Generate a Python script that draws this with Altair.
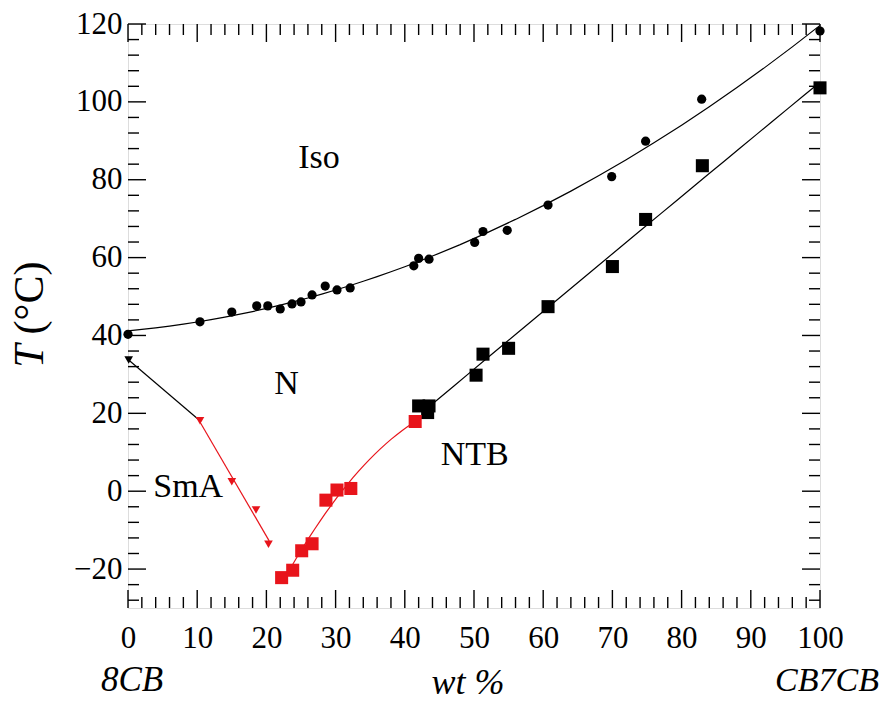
import altair as alt
import pandas as pd

# ---------------- data ----------------
# Iso -> N transition (circles)
iso_wt = [0, 10.4, 15.0, 18.6, 20.2, 22.0, 23.7, 25.0, 26.6, 28.5, 30.2, 32.1,
          41.3, 42.0, 43.5, 50.1, 51.3, 54.8, 60.7, 69.9, 74.8, 82.9, 100]
iso_T = [40.3, 43.5, 46.0, 47.6, 47.6, 46.8, 48.1, 48.6, 50.4, 52.7, 51.7, 52.2,
         57.9, 59.8, 59.6, 63.9, 66.7, 67.0, 73.5, 80.8, 89.9, 100.7, 118.2]

# N -> NTB transition (black squares)
ntb_wt = [42.0, 43.5, 43.3, 50.3, 51.3, 55.0, 60.7, 70.0, 74.8, 83.0, 100]
ntb_T = [21.9, 21.9, 20.2, 29.8, 35.2, 36.7, 47.4, 57.7, 69.8, 83.6, 103.6]

# SmA -> NTB transition (red squares)
red_sq_wt = [22.2, 23.8, 25.1, 26.6, 28.6, 30.2, 32.2, 41.5]
red_sq_T = [-22.2, -20.3, -15.3, -13.5, -2.3, 0.3, 0.7, 17.9]

# N -> SmA transition (down triangles); first one is black
tri_wt = [0.1, 10.4, 15.0, 18.5, 20.3]
tri_T = [33.7, 18.1, 2.4, -4.8, -13.6]
tri_col = ["black", "red", "red", "red", "red"]

# phase labels
phase_names = ["Iso", "N", "NTB", "SmA"]
phase_wt = [27.6, 22.9, 50.1, 8.7]
phase_T = [85.5, 27.5, 9.3, 1.0]

x_labels = [0, 10, 20, 30, 40, 50, 60, 70, 80, 90, 100]
y_labels = [-20, 0, 20, 40, 60, 80, 100, 120]
x_minor = [v for v in range(0, 101, 2) if v % 10 != 0]
y_minor = [v for v in range(-28, 121, 4) if v % 20 != 0]

RED = "#e8141b"
FONT = "Liberation Serif"
W, H = 692, 584

iso = pd.DataFrame({"wt": iso_wt, "T": iso_T})
ntb = pd.DataFrame({"wt": ntb_wt, "T": ntb_T})
red_sq = pd.DataFrame({"wt": red_sq_wt, "T": red_sq_T})
tri = pd.DataFrame({"wt": tri_wt, "T": tri_T, "c": tri_col})
phases = pd.DataFrame({"wt": phase_wt, "T": phase_T, "name": phase_names})

xscale = alt.Scale(domain=[0, 100], nice=False, zero=False)
yscale = alt.Scale(domain=[-30, 120], nice=False, zero=False)
xaxis = alt.Axis(values=x_labels, ticks=False, domain=False, grid=False, title=None,
                 labelFont=FONT, labelFontSize=31, labelColor="black", labelPadding=15,
                 labelFlush=False)
yaxis = alt.Axis(values=y_labels, ticks=False, domain=False, grid=False, title=None,
                 labelFont=FONT, labelFontSize=31, labelColor="black", labelPadding=6)


def X(f):
    return alt.X(f, type="quantitative", scale=xscale, axis=xaxis)


def Y(f):
    return alt.Y(f, type="quantitative", scale=yscale, axis=yaxis)


layers = []

# fitted curves
layers.append(alt.Chart(iso).transform_regression("wt", "T", method="poly", order=2, extent=[0, 100])
              .mark_line(color="black", strokeWidth=1.2).encode(x=X("wt"), y=Y("T")))
layers.append(alt.Chart(ntb).transform_regression("wt", "T", method="poly", order=2, extent=[42.5, 100])
              .mark_line(color="black", strokeWidth=1.2).encode(x=X("wt"), y=Y("T")))
layers.append(alt.Chart(red_sq).transform_regression("wt", "T", method="poly", order=2, extent=[23.0, 42.8])
              .mark_line(color=RED, strokeWidth=1.2).encode(x=X("wt"), y=Y("T")))
layers.append(alt.Chart(tri).transform_filter("datum.wt <= 11")
              .mark_line(color="black", strokeWidth=1.2).encode(x=X("wt"), y=Y("T")))
layers.append(alt.Chart(tri).transform_filter("datum.wt >= 10")
              .transform_regression("wt", "T", extent=[10.4, 20.4])
              .mark_line(color=RED, strokeWidth=1.2).encode(x=X("wt"), y=Y("T")))

# markers
layers.append(alt.Chart(iso).mark_point(shape="circle", filled=True, size=85, color="black", opacity=1)
              .encode(x=X("wt"), y=Y("T")))
layers.append(alt.Chart(ntb).mark_point(shape="square", filled=True, size=170, color="black", opacity=1)
              .encode(x=X("wt"), y=Y("T")))
layers.append(alt.Chart(red_sq).mark_point(shape="square", filled=True, size=170, color=RED, opacity=1)
              .encode(x=X("wt"), y=Y("T")))
layers.append(alt.Chart(tri).mark_point(shape="triangle-down", filled=True, size=75, opacity=1)
              .encode(x=X("wt"), y=Y("T"),
                      color=alt.Color("c:N", scale=alt.Scale(domain=["black", "red"], range=["black", RED]),
                                      legend=None)))

# phase labels
layers.append(alt.Chart(phases).mark_text(font=FONT, fontSize=34, color="black", baseline="middle", align="center")
              .encode(x=X("wt"), y=Y("T"), text="name:N"))

# inward ticks on all four sides
MAJ, MIN = 18, 11


def xticks(vals, length, bottom):
    d = pd.DataFrame({"v": vals})
    y0, y1 = (H, H - length) if bottom else (0, length)
    return alt.Chart(d).mark_rule(color="black", strokeWidth=1.4).encode(
        x=X("v"), y=alt.value(y0), y2=alt.value(y1))


def yticks(vals, length, left):
    d = pd.DataFrame({"v": vals})
    x0, x1 = (0, length) if left else (W, W - length)
    return alt.Chart(d).mark_rule(color="black", strokeWidth=1.4).encode(
        y=Y("v"), x=alt.value(x0), x2=alt.value(x1))


for b in (True, False):
    layers.append(xticks(x_labels, MAJ, b))
    layers.append(xticks(x_minor, MIN, b))
    layers.append(yticks(y_labels, MAJ, b))
    layers.append(yticks(y_minor, MIN, b))


# outer texts
def label(txt, x, y, size, style="italic", angle=0, baseline="alphabetic"):
    return alt.Chart(pd.DataFrame({"t": [txt]})).mark_text(
        font=FONT, fontSize=size, fontStyle=style, color="black", align="center",
        baseline=baseline, angle=angle).encode(x=alt.value(x), y=alt.value(y), text="t:N")


layers.append(label("8CB", 4, 667, 35))
layers.append(label("CB7CB", 699, 667, 34))
layers.append(label("wt %", 340, 670, 36))
layers.append(label("T", -98, 332, 42, angle=270, baseline="middle"))
layers.append(label("(°C)", -98, 274, 42, style="normal", angle=270, baseline="middle"))

chart = alt.layer(*layers).properties(
    width=W, height=H,
    autosize=alt.AutoSizeParams(type="none"),
    padding={"left": 120, "top": 16, "right": 65, "bottom": 94},
).configure_view(stroke="black", strokeWidth=2).configure(background="white")

chart.save("out.html", embed_options={"renderer": "svg", "actions": False})
